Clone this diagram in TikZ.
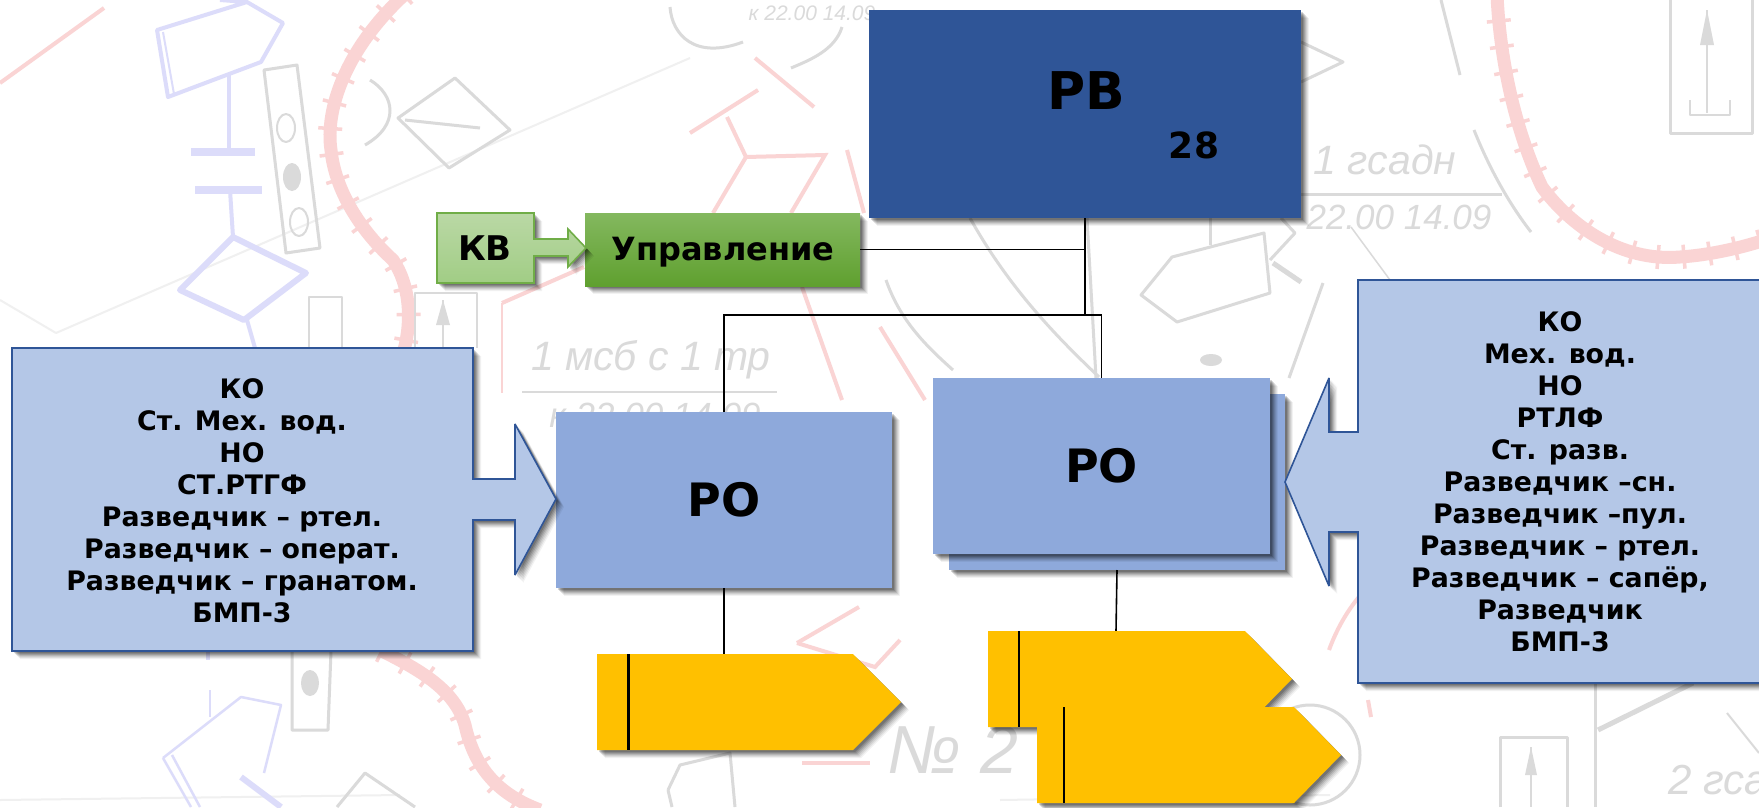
\documentclass[tikz,border=0pt]{standalone}
\usepackage{fontspec}
\setmainfont{DejaVu Sans}
\newfontfamily\mapf{Liberation Sans}
\usetikzlibrary{shadows,decorations.pathreplacing}
\definecolor{pinkbg}{HTML}{FAD4D4}
\definecolor{bluebg}{HTML}{DCDCFA}
\definecolor{graybg}{HTML}{DADADA}
\definecolor{faintbg}{HTML}{F0F0F0}
\definecolor{rvblue}{HTML}{2F5597}
\definecolor{roblue}{HTML}{8EA9DB}
\definecolor{callblue}{HTML}{B4C7E7}
\definecolor{kvtop}{HTML}{BAD8A5}
\definecolor{kvbot}{HTML}{A1CD85}
\definecolor{kvline}{HTML}{70AD47}
\definecolor{uprtop}{HTML}{84B85F}
\definecolor{uprbot}{HTML}{5FA02F}
\definecolor{gold}{HTML}{FFC000}
\tikzset{
  softshadow/.style={
    general shadow={shadow xshift=8pt,shadow yshift=-8pt,fill=black,opacity=.05},
    general shadow={shadow xshift=7pt,shadow yshift=-7pt,fill=black,opacity=.07},
    general shadow={shadow xshift=6pt,shadow yshift=-6pt,fill=black,opacity=.08},
    general shadow={shadow xshift=5pt,shadow yshift=-5pt,fill=black,opacity=.1},
    general shadow={shadow xshift=4pt,shadow yshift=-4pt,fill=black,opacity=.12},
    general shadow={shadow xshift=3pt,shadow yshift=-3pt,fill=black,opacity=.14},
    general shadow={shadow xshift=2pt,shadow yshift=-2pt,fill=black,opacity=.16}},
  pinkthick/.style={draw=pinkbg,line width=13pt,line join=round},
  pinkthin/.style={draw=pinkbg,line width=4pt},
  pinktick/.style={draw=pinkbg,line width=3.5pt,decorate,decoration={ticks,segment length=26pt,amplitude=12pt}},
  bluesym/.style={draw=bluebg,line width=4pt,line join=round},
  graysym/.style={draw=graybg,line width=3pt,line join=round},
  faintline/.style={draw=faintbg,line width=2pt},
  mapfont/.style={text=graybg,font=\mapf\fontsize{#1}{#1}\selectfont\itshape},
  box/.style={draw=none,rectangle,inner sep=0pt,outer sep=0pt},
  link/.style={draw=black,line width=1.6pt},
  callout/.style={draw=rvblue,line width=1.6pt,fill=callblue,line join=miter,miter limit=3,softshadow},
  calltext/.style={align=center,font=\fontsize{26.8}{32}\bfseries\selectfont,inner sep=0pt},
  flagshape/.style={fill=gold,softshadow},
  flagbar/.style={draw=black,line width=2.6pt},
}
\begin{document}
\begin{tikzpicture}[x=1pt,y=-1pt]
\useasboundingbox (0,0) rectangle (1759,807);
\clip (0,0) rectangle (1759,807);
\fill[white] (0,0) rectangle (1759,807);

% ---- faded map behind the diagram ----
\draw[faintline] (690,58) -- (56,333);
\draw[faintline] (56,333) -- (0,300);
\draw[faintline] (0,800) -- (400,795);
\draw[faintline] (1000,800) -- (1330,795);
% pink fortification lines
\draw[pinkthin] (0,83) -- (104,8);
\draw[pinkthick] (404,-5) .. controls (345,50) and (325,110) .. (331,150) .. controls (335,190) and (360,230) .. (393,260) .. controls (410,285) and (412,320) .. (404,350);
\draw[pinktick] (404,-5) .. controls (345,50) and (325,110) .. (331,150) .. controls (335,190) and (360,230) .. (393,260) .. controls (410,285) and (412,320) .. (404,350);
\draw[pinkthick] (382,651) .. controls (420,670) and (455,690) .. (465,725) .. controls (475,770) and (500,795) .. (540,810);
\draw[pinktick] (382,651) .. controls (420,670) and (455,690) .. (465,725) .. controls (475,770) and (500,795) .. (540,810);
\draw[pinkthick] (1497,-5) .. controls (1500,60) and (1515,130) .. (1542,187) .. controls (1570,225) and (1620,262) .. (1680,257) .. controls (1710,255) and (1740,248) .. (1765,240);
\draw[pinktick] (1497,-5) .. controls (1500,60) and (1515,130) .. (1542,187) .. controls (1570,225) and (1620,262) .. (1680,257) .. controls (1710,255) and (1740,248) .. (1765,240);
\draw[pinkthin] (755,58) -- (814,107);
\draw[pinkthin] (690,133) -- (758,90);
\draw[pinkthin] (727,117) -- (746,157) -- (825,155) -- (791,213);
\draw[pinkthin] (746,157) -- (713,213);
\draw[pinkthin] (847,150) -- (864,213);
\draw[pinkthin] (502,303) -- (584,267);
\draw[pinkbg,line width=1.5pt] (502,303) -- (502,393);
\draw[pinkthin] (802,287) -- (842,400);
\draw[pinkthin] (880,327) -- (925,400);
\draw[pinkthin] (797,643) -- (859,607);
\draw[pinkthin] (797,643) -- (875,667) -- (900,640);
\draw[pinkthin] (802,763) -- (870,763);
\draw[pinkthin] (1329,650) .. controls (1340,620) and (1355,600) .. (1368,587);
\draw[pinkthin] (1368,700) -- (1371,717);
% blue symbols, left
\draw[bluesym] (220,0) -- (247,2) -- (283,23) -- (261,62) -- (168,97) -- (157,30) -- (247,2);
\draw[bluesym,line width=2pt] (163,32) -- (174,94);
\draw[bluesym] (229,75) -- (229,152);
\draw[bluebg,line width=8pt] (191,152) -- (255,152);
\draw[bluebg,line width=8pt] (195,190) -- (262,190);
\draw[bluesym] (230,190) -- (233,237);
\draw[bluebg,line width=6pt,line join=round] (233,237) -- (306,273) -- (244,320) -- (180,290) -- cycle;
\draw[bluesym] (247,320) -- (255,348);
\draw[bluesym] (208,651) -- (208,660);
\draw[bluesym,line width=2.5pt] (163,758) -- (241,697) -- (281,705) -- (264,773);
\draw[bluesym,line width=2.5pt] (163,758) -- (191,807);
\draw[bluesym,line width=2.5pt] (172,755) -- (200,807);
\draw[bluesym,line width=2.5pt] (210,690) -- (210,717);
\draw[bluebg,line width=6pt] (241,777) -- (281,807);
% gray symbols
\draw[graysym] (264,70) -- (297,65) -- (320,248) -- (286,253) -- cycle;
\draw[graysym,line width=2pt] (286,128) circle [x radius=9,y radius=14];
\fill[graybg] (292,177) circle [x radius=9,y radius=14];
\draw[graysym,line width=2pt] (299,222) circle [x radius=9,y radius=14];
\draw[graysym] (455,78) -- (510,130) -- (449,168) -- (398,118) -- cycle;
\draw[graysym] (370,80) .. controls (395,95) and (400,125) .. (365,145);
\draw[graysym] (405,120) -- (480,128);
\draw[graysym] (670,7) .. controls (672,35) and (695,60) .. (743,42);
\draw[graysym] (842,27) .. controls (835,50) and (810,60) .. (791,68);
\draw[graysym,line width=2pt] (415,348) -- (415,293) -- (477,293) -- (477,348);
\draw[graysym,line width=2pt] (443,300) -- (443,348);
\fill[graybg] (443,300) -- (436,325) -- (450,325) -- cycle;
\draw[graysym,line width=2pt] (309,348) -- (309,297) -- (342,297) -- (342,348);
\draw[graysym] (1301,42) -- (1343,62) -- (1301,82);
\draw[graysym] (1441,0) -- (1460,75);
\draw[graysym] (1670,0) -- (1670,133) -- (1752,133) -- (1752,0);
\draw[graysym,line width=2pt] (1707,10) -- (1707,113);
\fill[graybg] (1707,10) -- (1700,45) -- (1714,45) -- cycle;
\draw[graysym,line width=2pt] (1690,100) -- (1690,115) -- (1730,115) -- (1730,100);
\draw[graysym] (1474,130) .. controls (1490,170) and (1510,205) .. (1531,232);
\draw[graysym] (1264,233) -- (1270,293) -- (1177,322) -- (1141,295) -- (1172,257) -- cycle;
\draw[graysym] (1210,218) -- (1210,245);
\draw[graysym,line width=5pt] (1273,263) -- (1301,282);
\draw[graysym] (1270,260) -- (1295,233) -- (1281,218);
\draw[graysym,line width=1.5pt] (1351,227) -- (1390,280);
\draw[graysym] (970,218) .. controls (1010,290) and (1060,340) .. (1099,377);
\draw[graysym] (1087,218) -- (1096,378);
\draw[graysym] (886,280) .. controls (900,320) and (925,345) .. (953,370);
\draw[graysym] (1323,283) -- (1289,378);
\fill[graybg] (1211,360) circle [x radius=11,y radius=6];
\draw[graysym] (292,651) -- (292,730) -- (328,730) -- (331,651);
\fill[graybg] (310,683) circle [x radius=9,y radius=13];
\draw[graysym] (337,807) -- (365,773) -- (415,807);
\draw[graysym] (668,790) -- (680,765) -- (730,753) -- (735,807);
\draw[graysym] (668,790) -- (672,807);
\draw[graysym] (1310,755) circle [radius=50];
\draw[graysym] (1500,807) -- (1500,737) -- (1567,737) -- (1567,807);
\draw[graysym,line width=2pt] (1531,747) -- (1531,807);
\fill[graybg] (1531,747) -- (1525,775) -- (1537,775) -- cycle;
\draw[graysym] (1595,683) -- (1595,807);
\draw[graysym,line width=5pt] (1598,730) -- (1693,683);
\draw[graysym,line width=2pt] (1727,713) -- (1759,753);
% map lettering
\node[mapfont=21] (m1) at (812,13) {к 22.00 14.09};
\node[mapfont=41] (m2) at (651,360) {1 мсб с 1 тр};
\draw[graysym,line width=2pt] (522,392) -- (777,392);
\node[mapfont=35] (m3) at (655,415) {к 22.00 14.09};
\node[mapfont=41] (m4) at (1385,160) {1 гсадн};
\draw[graysym] (1301,194) -- (1502,194);
\node[mapfont=35] (m5) at (1399,217) {22.00 14.09};
\node[mapfont=68] (m6) at (953,750) {№ 2};
\node[mapfont=42,anchor=west] (m7) at (1665,780) {2 гса};

% ---- diagram nodes ----
\coordinate (jct) at (1085,315);
\coordinate (ytop1) at (724,654);
\coordinate (ytop2) at (1116,631);

\node[box,fill=rvblue,softshadow,minimum width=432pt,minimum height=208pt] (rv) at (1085,114) {};
\node[font=\fontsize{52}{52}\bfseries\selectfont,inner sep=0pt] (rvt) at (1086,91) {РВ};
\node[font=\fontsize{36}{36}\bfseries\selectfont,inner sep=0pt] (rvn) at (1194,145) {28};

\node[box,softshadow,top color=uprtop,bottom color=uprbot,minimum width=275pt,minimum height=73pt] (upr) at (722.5,249.5) {};
\node[font=\fontsize{32}{32}\bfseries\selectfont,inner sep=0pt] (uprt) at (723,252) {Управление};

% connectors
\draw[link] (upr.east) -- (upr.east -| rv.south);
\draw[link] (rv.south) -- (jct);

\node[box,fill=roblue,softshadow,minimum width=336pt,minimum height=176pt] (ro2b) at (1117,482) {};
\node[box,fill=roblue,softshadow,minimum width=337pt,minimum height=176pt,font=\fontsize{46}{46}\bfseries\selectfont] (ro2) at (1101.5,466) {РО};
\node[box,fill=roblue,softshadow,minimum width=336pt,minimum height=176pt,font=\fontsize{46}{46}\bfseries\selectfont] (ro1) at (724,500) {РО};

\draw[link] (ro1.north) |- (jct);
\draw[link] (jct) -| (ro2.north);
\draw[link] (ro1.south) -- (ytop1);
\draw[link] (ro2b.south) -- (ytop2);

% KV arrow-box
\path[top color=kvtop,bottom color=kvbot,draw=kvline,line width=1.6pt,softshadow]
  (437,213) -- (534,213) -- (534,239) -- (568,239) -- (568,229) -- (586,248) -- (568,267) -- (568,256) -- (534,256) -- (534,283) -- (437,283) -- cycle;
\node[font=\fontsize{34}{34}\bfseries\selectfont,inner sep=0pt] (kv) at (485,248) {КВ};

% callouts
\path[callout] (12,348) -- (473,348) -- (473,479) -- (515,479) -- (515,424) -- (556,499) -- (515,575) -- (515,520) -- (473,520) -- (473,651) -- (12,651) -- cycle;
\node[calltext] (leftt) at (242,500.5) {КО\\Ст. Мех. вод.\\НО\\СТ.РТГФ\\Разведчик – ртел.\\Разведчик – операт.\\Разведчик – гранатом.\\БМП-3};

\path[callout] (1770,280) -- (1358,280) -- (1358,432) -- (1329,432) -- (1329,378) -- (1285,482) -- (1329,586) -- (1329,532) -- (1358,532) -- (1358,683) -- (1770,683) -- cycle;
\node[calltext] (rightt) at (1560,482) {КО\\Мех. вод.\\НО\\РТЛФ\\Ст. разв.\\Разведчик –сн.\\Разведчик –пул.\\Разведчик – ртел.\\Разведчик – сапёр,\\Разведчик\\БМП-3};

% flags
\path[flagshape] (597,654) -- (853,654) -- (901,702) -- (853,750) -- (597,750) -- cycle;
\draw[flagbar] (628.5,654) -- (628.5,750);
\path[flagshape] (988,631) -- (1245,631) -- (1292,679) -- (1245,727) -- (988,727) -- cycle;
\draw[flagbar] (1019,631) -- (1019,727);
\path[flagshape] (1037,707) -- (1294,707) -- (1341,755) -- (1294,803) -- (1037,803) -- cycle;
\draw[flagbar] (1064,707) -- (1064,803);
\end{tikzpicture}
\end{document}
